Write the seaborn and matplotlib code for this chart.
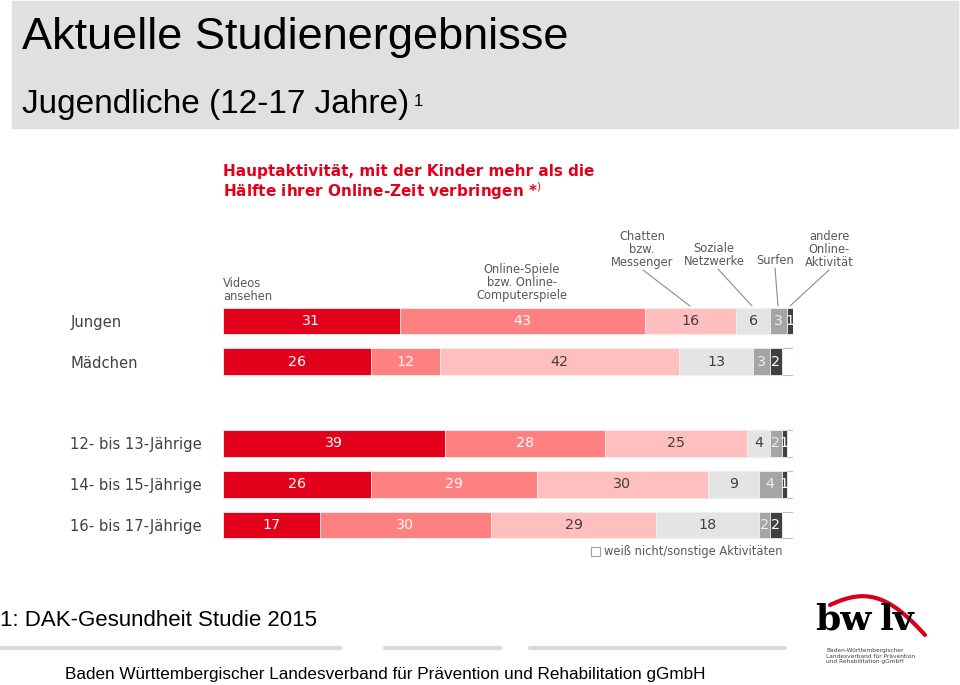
import matplotlib.pyplot as plt
import matplotlib.lines as mlines
import matplotlib.patches as mpatches
import numpy as np
import pandas as pd
import seaborn as sns

# --- data -----------------------------------------------------------------
rows = ["Jungen", "Mädchen", "", "12- bis 13-Jährige", "14- bis 15-Jährige", "16- bis 17-Jährige"]
activities = ["Videos ansehen", "Online-Spiele bzw. Online-Computerspiele",
              "Chatten bzw. Messenger", "Soziale Netzwerke", "Surfen", "andere Online-Aktivität"]
groups = ["Jungen", "Mädchen", "12- bis 13-Jährige", "14- bis 15-Jährige", "16- bis 17-Jährige"]
videos = [31, 26, 39, 26, 17]
spiele = [43, 12, 28, 29, 30]
chatten = [16, 42, 25, 30, 29]
sozial = [6, 13, 4, 9, 18]
surfen = [3, 3, 2, 4, 2]
andere = [1, 2, 1, 1, 2]
total = [100, 100, 100, 100, 100]

colors = ["#E2001A", "#FF8080", "#FFBFBF", "#E4E4E4", "#A5A5A5", "#404040"]
text_colors = ["white", "white", "#404040", "#404040", "#EDEDED", "white"]

series = [videos, spiele, chatten, sozial, surfen, andere]
df = pd.DataFrame({a: s for a, s in zip(activities, series)}, index=groups)
cum = df.cumsum(axis=1)

sns.set_theme(style="white")
plt.rcParams["font.family"] = ["DejaVu Sans"]

fig = plt.figure(figsize=(9.6, 6.85), dpi=100)
W, H = 960, 685

# header band
fig.patches.append(mpatches.Rectangle((12 / W, 1 - 128 / H), 946 / W, 127 / H,
                                      transform=fig.transFigure, color="#E0E0E0", zorder=0))
narrow = ["Liberation Sans Narrow", "Liberation Sans", "DejaVu Sans"]
fig.text(22 / W, 1 - 38 / H, "Aktuelle Studienergebnisse", fontsize=32.5, family=narrow,
         va="center", ha="left", color="black")
fig.text(22 / W, 1 - 104 / H, "Jugendliche (12-17 Jahre)", fontsize=24, family=narrow,
         va="center", ha="left", color="black")
fig.text(414 / W, 1 - 101 / H, "1", fontsize=12, family=narrow,
         va="center", ha="left", color="black")

# --- chart ----------------------------------------------------------------
ax = fig.add_axes([223 / W, 1 - 545.4 / H, 570 / W, 244.8 / H])
bar_h = 0.66
long_total = pd.DataFrame({"row": groups, "value": total})
sns.barplot(data=long_total, x="value", y="row", order=rows, orient="h",
            color="white", edgecolor="#BDBDBD", linewidth=0.8, width=bar_h, ax=ax,
            saturation=1)
for act, col in reversed(list(zip(activities, colors))):
    d = pd.DataFrame({"row": groups, "value": cum[act].values})
    sns.barplot(data=d, x="value", y="row", order=rows, orient="h", color=col,
                edgecolor="#F2F2F2", linewidth=0.6, width=bar_h, ax=ax, saturation=1)

ypos = {r: i for i, r in enumerate(rows)}
for act, tc in zip(activities, text_colors):
    for g in groups:
        v = df.loc[g, act]
        ax.text(cum.loc[g, act] - v / 2, ypos[g], str(v), ha="center", va="center",
                color=tc, fontsize=10.3)

ax.set_xlim(0, 100)
ax.set_ylim(5.5, -0.5)
ax.set_xlabel("")
ax.set_ylabel("")
ax.set_xticks([])
ax.tick_params(axis="y", length=0, pad=110)
for lab in ax.get_yticklabels():
    lab.set_ha("left")
    lab.set_color("#404040")
    lab.set_fontsize(10.6)
sns.despine(ax=ax, left=True, bottom=True)

# chart title
fig.text(223 / W, 1 - 183 / H,
         "Hauptaktivität, mit der Kinder mehr als die\nHälfte ihrer Online-Zeit verbringen *$^{)}$",
         fontsize=11, fontweight="bold", color="#E2001A", ha="left", va="center",
         linespacing=1.1)

# category labels above bars
lab_col = "#595959"
lab_fs = 8.3
fig.text(223 / W, 1 - 290 / H, "Videos\nansehen", fontsize=lab_fs, color=lab_col,
         ha="left", va="center", linespacing=1.0)
fig.text(522 / W, 1 - 283 / H, "Online-Spiele\nbzw. Online-\nComputerspiele", fontsize=lab_fs,
         color=lab_col, ha="center", va="center", linespacing=1.0)
fig.text(642 / W, 1 - 249 / H, "Chatten\nbzw.\nMessenger", fontsize=lab_fs, color=lab_col,
         ha="center", va="center", linespacing=1.0)
fig.text(714 / W, 1 - 255 / H, "Soziale\nNetzwerke", fontsize=lab_fs, color=lab_col,
         ha="center", va="center", linespacing=1.0)
fig.text(775 / W, 1 - 261 / H, "Surfen", fontsize=lab_fs, color=lab_col,
         ha="center", va="center")
fig.text(829 / W, 1 - 249 / H, "andere\nOnline-\nAktivität", fontsize=lab_fs, color=lab_col,
         ha="center", va="center", linespacing=1.0)
for (x0, y0, x1, y1) in [(643, 270, 690, 306), (718, 269, 752, 306),
                         (775, 268, 778, 306), (829, 270, 790, 306)]:
    fig.lines.append(mlines.Line2D([x0 / W, x1 / W], [1 - y0 / H, 1 - y1 / H],
                                   transform=fig.transFigure, color="#8C8C8C", lw=0.8))

# legend
fig.patches.append(mpatches.Rectangle((591 / W, 1 - 556 / H), 9 / W, 9 / H,
                                      transform=fig.transFigure, facecolor="white",
                                      edgecolor="#A0A0A0", lw=0.8))
fig.text(604 / W, 1 - 551 / H, "weiß nicht/sonstige Aktivitäten", fontsize=8.3,
         color=lab_col, ha="left", va="center")

# footer
fig.text(0, 1 - 621 / H, "1: DAK-Gesundheit Studie 2015", fontsize=16, family=narrow,
         ha="left", va="center", color="black")
for xa, xb in [(0, 340), (385, 500), (530, 785)]:
    fig.lines.append(mlines.Line2D([xa / W, xb / W], [1 - 648 / H, 1 - 648 / H],
                                   transform=fig.transFigure, color="#DADADA", lw=3))
fig.text(65 / W, 1 - 675 / H,
         "Baden Württembergischer Landesverband für Prävention und Rehabilitation gGmbH",
         fontsize=12.3, family=["Liberation Sans", "DejaVu Sans"], ha="left", va="center",
         color="black")

# logo
t = np.linspace(0, 1, 50)
fig.lines.append(mlines.Line2D((830 + 95 * t) / W, 1 - (605 - 14 * np.sin(np.pi * t) + 30 * t ** 2) / H,
                               transform=fig.transFigure, color="#D9001B", lw=3))
fig.text(815 / W, 1 - 620 / H, "bw", fontsize=26, fontweight="bold", ha="left",
         va="center", color="black", family=["DejaVu Serif"])
fig.text(880 / W, 1 - 620 / H, "lv", fontsize=26, fontweight="bold", ha="left",
         va="center", color="black", family=["DejaVu Serif"])
fig.text(826 / W, 1 - 656 / H,
         "Baden-Württembergischer\nLandesverband für Prävention\nund Rehabilitation gGmbH",
         fontsize=4.2, ha="left", va="center", color="#404040", linespacing=1.1)

fig.savefig("out.png", dpi=100, facecolor="white")
